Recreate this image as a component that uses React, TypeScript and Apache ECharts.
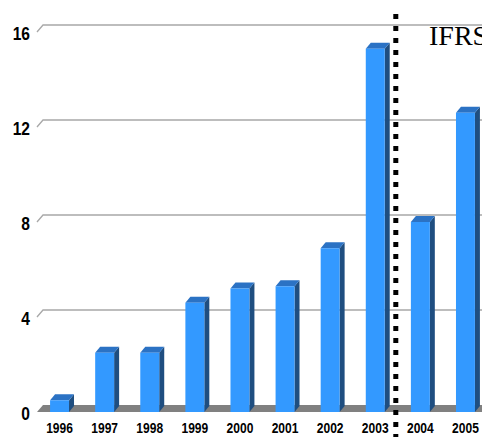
import React, { useEffect, useRef } from "react";
import * as echarts from "echarts";

const categories = ["1996", "1997", "1998", "1999", "2000", "2001", "2002", "2003", "2004", "2005"];
const values = [0.5, 2.5, 2.5, 4.6, 5.2, 5.3, 6.9, 15.3, 8.0, 12.6];
const gridTicks = [0, 4, 8, 12, 16];
const dividerAfterIndex = 7; // vertical dotted line between 2003 and 2004
const annotation = "IFRS";

export default function App() {
  const ref = useRef<HTMLDivElement>(null);
  useEffect(() => {
    if (!ref.current) return;
    const chart = echarts.init(ref.current, null, { renderer: "svg" });
    const option: any = {
      animation: false,
      grid: { left: 37, width: 451, top: 32, height: 380, containLabel: false },
      xAxis: {
        type: "category",
        data: categories,
        axisLine: { show: false },
        axisTick: { show: false },
        axisLabel: { show: false },
      },
      yAxis: {
        type: "value",
        min: 0,
        max: 16,
        interval: 4,
        splitLine: { show: false },
        axisLine: { show: false },
        axisTick: { show: false },
        axisLabel: { show: false },
      },
      series: [
        {
          type: "custom",
          silent: true,
          data: gridTicks.map((t) => [0, t]),
          renderItem: (params: any, api: any) => {
            const v = api.value(1);
            const cs = params.coordSys;
            const y = api.coord([0, v])[1];
            const x0 = cs.x;
            const xr = cs.x + cs.width + 20;
            if (v === 0) {
              return {
                type: "polygon",
                shape: { points: [[x0, y], [x0 + 6, y - 7], [xr, y - 7], [xr, y]] },
                style: { fill: "#808080" },
              };
            }
            return {
              type: "polyline",
              shape: { points: [[x0, y], [x0 + 6, y - 7], [xr, y - 7]] },
              style: { stroke: "#a8a8a8", lineWidth: 1.3, fill: null },
            };
          },
        },
        {
          type: "custom",
          data: values.map((v, i) => [i, v]),
          renderItem: (params: any, api: any) => {
            const i = api.value(0);
            const v = api.value(1);
            const base = api.coord([i, 0]);
            const top = api.coord([i, v]);
            const w = api.size([1, 0])[0] * 0.42;
            const l = base[0] - w / 2;
            const r = base[0] + w / 2;
            const dx = 5;
            const dy = 6;
            return {
              type: "group",
              children: [
                {
                  type: "polygon",
                  shape: { points: [[r, top[1]], [r + dx, top[1] - dy], [r + dx, base[1] - dy], [r, base[1]]] },
                  style: { fill: "#1F4E80" },
                },
                {
                  type: "polygon",
                  shape: { points: [[l, top[1]], [l + dx, top[1] - dy], [r + dx, top[1] - dy], [r, top[1]]] },
                  style: { fill: "#2B72C4" },
                },
                {
                  type: "rect",
                  shape: { x: l, y: top[1], width: w, height: base[1] - top[1] },
                  style: { fill: "#3399FF" },
                },
              ],
            };
          },
        },
        {
          type: "custom",
          silent: true,
          data: [[dividerAfterIndex, 0]],
          renderItem: (params: any, api: any) => {
            const i = api.value(0);
            const band = api.size([1, 0])[0];
            const x = api.coord([i, 0])[0] + band / 2 - 2;
            return {
              type: "line",
              shape: { x1: x, y1: 14, x2: x, y2: 440 },
              style: { stroke: "#000", lineWidth: 5, lineDash: [5, 7] },
            };
          },
        },
      ],
    };
    chart.setOption(option);

    // Narrow bold tick labels, positioned through the chart's own axes.
    const font = "'Liberation Sans', Arial, sans-serif";
    const xLabels = categories.map((c, i) => {
      const p = chart.convertToPixel({ gridIndex: 0 }, [i, 0]) as number[];
      return {
        type: "text",
        x: p[0],
        y: p[1] + 16.5,
        scaleX: 0.86,
        style: {
          text: c,
          font: `bold 14px ${font}`,
          fill: "#000",
          align: "center",
          verticalAlign: "middle",
        },
      };
    });
    const yLabels = gridTicks.map((t) => {
      const p = chart.convertToPixel({ gridIndex: 0 }, [0, t]) as number[];
      return {
        type: "text",
        x: 30,
        y: p[1] + 1.5,
        scaleX: 0.82,
        style: {
          text: String(t),
          font: `bold 19px ${font}`,
          fill: "#000",
          align: "right",
          verticalAlign: "middle",
        },
      };
    });
    chart.setOption({
      graphic: [
        ...xLabels,
        ...yLabels,
        {
          type: "text",
          x: 429,
          y: 35.5,
          style: {
            text: annotation,
            font: "28px 'Liberation Serif', 'Times New Roman', serif",
            fill: "#000",
            verticalAlign: "middle",
          },
        },
      ],
    });
    return () => chart.dispose();
  }, []);
  return (
    <div
      style={{ position: "absolute", left: 0, top: 0, width: 482, height: 437, overflow: "hidden" }}
    >
      <div ref={ref} style={{ width: 500, height: 437 }} />
    </div>
  );
}
